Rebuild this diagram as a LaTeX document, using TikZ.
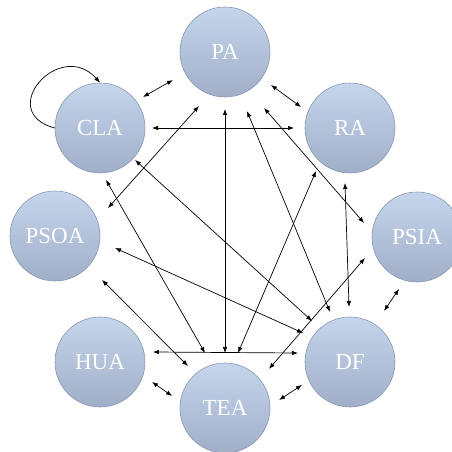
\documentclass[tikz,border=0pt]{standalone}
\usepackage{fontspec}
\setmainfont{Liberation Serif}
\usetikzlibrary{arrows.meta,calc}
\definecolor{agtop}{RGB}{197,213,236}
\definecolor{agbot}{RGB}{160,175,199}
\definecolor{agedge}{RGB}{135,152,178}
\begin{document}
\begin{tikzpicture}[x=1pt,y=1pt,
  agent/.style={circle,minimum size=90pt,inner sep=0pt,draw=agedge,line width=0.6pt,
    top color=agtop,bottom color=agbot,text=white,font=\fontsize{23}{23}\selectfont},
  link/.style={line width=0.7pt,{Latex[length=6pt,width=4.5pt]}-{Latex[length=6pt,width=4.5pt]}},
  loop/.style={line width=0.7pt,-{Latex[length=6pt,width=4.5pt]}},
]
\useasboundingbox (0,0) rectangle (452,452);
\begin{scope}
\clip (0,0) rectangle (452,452);
% agents on the ring
\node[agent] (PA)   at (225,400) {PA};
\node[agent] (CLA)  at (100,324) {CLA};
\node[agent] (RA)   at (350,324) {RA};
\node[agent] (PSOA) at (55,216)  {PSOA};
\node[agent] (PSIA) at (417,215) {PSIA};
\node[agent] (HUA)  at (100,90)  {HUA};
\node[agent] (DF)   at (350,90)  {DF};
\node[agent] (TEA)  at (225,44)  {TEA};

% self loop on CLA
\draw[loop] (CLA.180) .. controls +(-60,16) and +(-40,45) .. (CLA.90);

% neighbour links
\draw[link] ($(CLA)+(35.8:53)$)   -- ($(PA)+(208.3:59.1)$);
\draw[link] ($(PA)+(-35.7:56.6)$) -- ($(RA)+(156.8:53.3)$);
\draw[link] ($(HUA)+(-21:55.7)$)  -- ($(TEA)+(167.2:54.3)$);
\draw[link] ($(TEA)+(8.4:54.6)$)  -- ($(DF)+(205.6:53.2)$);
\draw[link] ($(DF)+(56.3:61.3)$)  -- ($(PSIA)+(250.9:55)$);

% long links
\draw[link] ($(CLA)+(0:52)$)       -- ($(RA)+(180:56)$);
\draw[link] ($(HUA)+(10.7:53.9)$)  -- ($(DF)+(170.2:52.8)$);
\draw[link] ($(PA)+(-90:57)$)      -- ($(TEA)+(90:55)$);
\draw[link] ($(PSOA)+(-43.1:64.4)$) -- ($(TEA)+(131.4:56)$);
\draw[link] ($(PSOA)+(-11.3:61.2)$) -- ($(DF)+(148.3:55.2)$);
\draw[link] ($(CLA)+(-42.4:47.4)$) -- ($(DF)+(132.8:55.9)$);
\draw[link] ($(CLA)+(-83.4:52.3)$) -- ($(TEA)+(110:58.5)$);
\draw[link] ($(PSOA)+(27.8:59.9)$) -- ($(PA)+(244.3:59.9)$);
\draw[link] ($(PA)+(-69.6:63)$)    -- ($(DF)+(111.8:53.9)$);
\draw[link] ($(TEA)+(76.7:56.5)$)  -- ($(RA)+(231.7:54.8)$);
\draw[link] ($(PA)+(-55.1:68.2)$)  -- ($(PSIA)+(165.2:54.8)$);
\draw[link] ($(RA)+(-95.2:55.2)$)  -- ($(DF)+(91:55)$);
\draw[link] ($(TEA)+(41.6:58.8)$)  -- ($(PSIA)+(202:56.1)$);
\end{scope}
\end{tikzpicture}
\end{document}
